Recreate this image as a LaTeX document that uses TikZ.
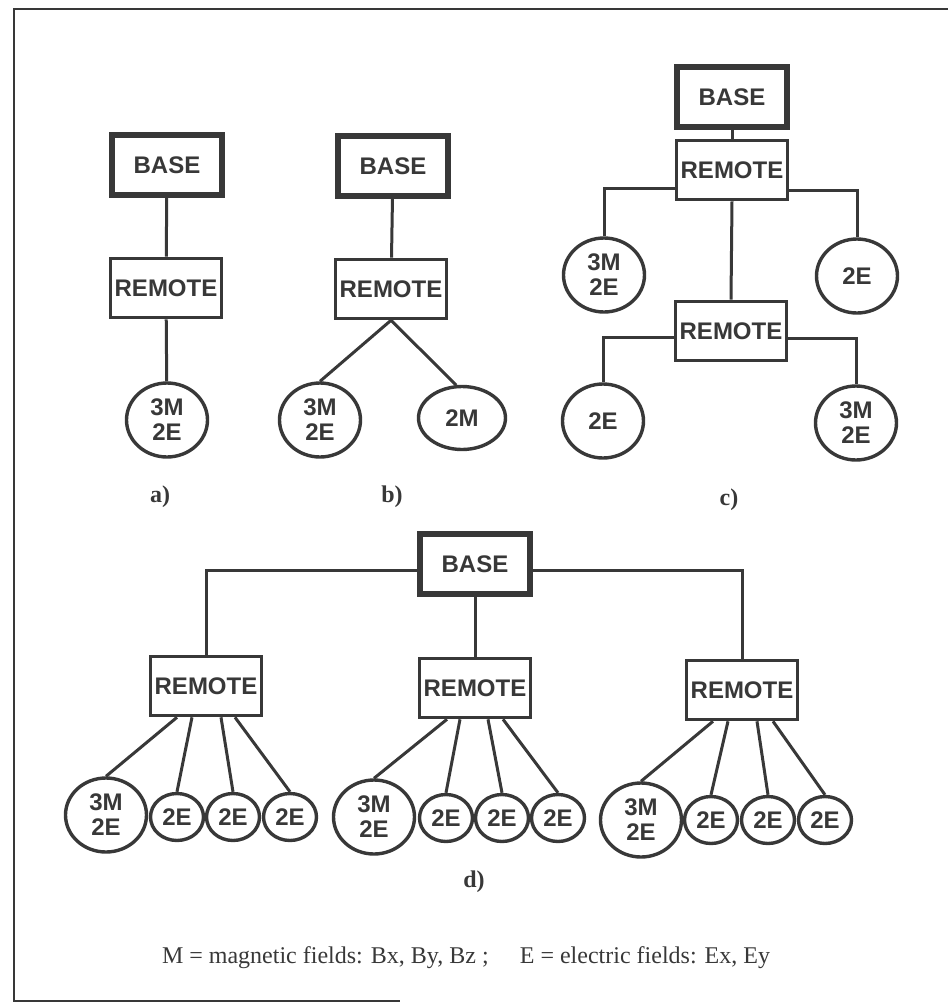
\documentclass[tikz,border=0pt]{standalone}
\usepackage{fontspec}
\setmainfont{Liberation Serif}
\setsansfont{Liberation Sans}
\usepackage{tikz}
\usetikzlibrary{calc,shapes.geometric}
\definecolor{inkgray}{HTML}{383838}
\tikzset{
  basebox/.style={draw=inkgray,line width=5.5pt,fill=white,minimum width=110pt,
    minimum height=60pt,inner sep=0pt,font=\sffamily\bfseries\fontsize{24}{26}\selectfont,text=inkgray},
  remotebox/.style={basebox,line width=3.6pt,minimum width=111pt,minimum height=59pt},
  sensor/.style={ellipse,draw=inkgray,line width=3.4pt,fill=white,inner sep=0pt,align=center,
    font=\sffamily\bfseries\fontsize{24}{25}\selectfont,text=inkgray},
  bigsensor/.style={sensor,minimum width=81pt,minimum height=74pt},
  smallsensor/.style={sensor,minimum width=53pt,minimum height=47pt},
  wire/.style={draw=inkgray,line width=3pt},
  partlabel/.style={font=\bfseries\fontsize{24}{26}\selectfont,text=inkgray},
  legend/.style={font=\fontsize{24}{26}\selectfont,text=inkgray}
}

\begin{document}
\begin{tikzpicture}[x=1pt,y=-1pt]
    \useasboundingbox (0,0) rectangle (948,1005);
    \draw[inkgray,line width=2.5pt] (948,9) -- (14,9) -- (14,1001) -- (400,1001);
    % a)
    \node[basebox] (ba) at (167,165) {BASE};
    \node[remotebox] (ra) at (166,288) {REMOTE};
    \node[bigsensor] (sa) at (167,420) {3M\\2E};
    \draw[wire] (ba)--(ra);
    \draw[wire] (ra)--(sa);
    \node[partlabel] (la) at (160,497) {a)};
    % b)
    \node[basebox] (bb) at (393,166) {BASE};
    \node[remotebox] (rb) at (391,289) {REMOTE};
    \node[bigsensor] (sb1) at (320,420) {3M\\2E};
    \node[sensor,minimum width=87pt,minimum height=63pt] (sb2) at (462,418) {2M};
    \draw[wire] (bb)--(rb);
    \draw[wire] (rb.south)--(sb1.north);
    \draw[wire] (rb.south)--(sb2.100);
    \node[partlabel] (lb) at (392,497) {b)};
    % c)
    \node[basebox] (bc) at (732,97) {BASE};
    \node[remotebox] (rc1) at (732,170) {REMOTE};
    \node[bigsensor] (sc1) at (604,275) {3M\\2E};
    \node[bigsensor] (sc2) at (857,276) {2E};
    \node[remotebox] (rc2) at (731,331) {REMOTE};
    \node[bigsensor] (sc3) at (603,421) {2E};
    \node[bigsensor] (sc4) at (856,423) {3M\\2E};
    \draw[wire] (bc)--(rc1);
    \draw[wire] ($(rc1.west)+(0,18)$) -| (sc1.north);
    \draw[wire] ($(rc1.east)+(0,20)$) -| (sc2.north);
    \draw[wire] (rc1.south) -- (rc2.north);
    \draw[wire] ($(rc2.west)+(0,6)$) -| (sc3.north);
    \draw[wire] ($(rc2.east)+(0,7)$) -| (sc4.north);
    \node[partlabel] (lc) at (729,500) {c)};
    % d)
    \node[basebox] (bd) at (475,564) {BASE};
    \node[remotebox] (rdl) at (206,686) {REMOTE};
    \node[remotebox] (rdm) at (475,688) {REMOTE};
    \node[remotebox] (rdr) at (742,690) {REMOTE};
    \draw[wire] ($(bd.west)+(0,6)$) -| (rdl.north);
    \draw[wire] ($(bd.east)+(0,6)$) -| (rdr.north);
    \draw[wire] (bd.south) -- (rdm.north);
    \node[bigsensor] (dl0) at (106,815) {3M\\2E};
    \node[smallsensor] (dl1) at (177,817) {2E};
    \node[smallsensor] (dl2) at (233,817) {2E};
    \node[smallsensor] (dl3) at (290,817) {2E};
    \node[bigsensor] (dm0) at (374,817) {3M\\2E};
    \node[smallsensor] (dm1) at (446,818) {2E};
    \node[smallsensor] (dm2) at (502,818) {2E};
    \node[smallsensor] (dm3) at (558,818) {2E};
    \node[bigsensor] (dr0) at (641,820) {3M\\2E};
    \node[smallsensor] (dr1) at (711,820) {2E};
    \node[smallsensor] (dr2) at (768,820) {2E};
    \node[smallsensor] (dr3) at (825,820) {2E};
    \draw[wire] ($(rdl.south)+(-29,0)$) -- (dl0.north);
    \draw[wire] ($(rdl.south)+(-14,0)$) -- (dl1.north);
    \draw[wire] ($(rdl.south)+(15,0)$) -- (dl2.north);
    \draw[wire] ($(rdl.south)+(29,0)$) -- (dl3.north);
    \draw[wire] ($(rdm.south)+(-28,0)$) -- (dm0.north);
    \draw[wire] ($(rdm.south)+(-15,0)$) -- (dm1.north);
    \draw[wire] ($(rdm.south)+(13,0)$) -- (dm2.north);
    \draw[wire] ($(rdm.south)+(28,0)$) -- (dm3.north);
    \draw[wire] ($(rdr.south)+(-29,0)$) -- (dr0.north);
    \draw[wire] ($(rdr.south)+(-14,0)$) -- (dr1.north);
    \draw[wire] ($(rdr.south)+(15,0)$) -- (dr2.north);
    \draw[wire] ($(rdr.south)+(31,0)$) -- (dr3.north);
    \node[partlabel] (ld) at (474,882) {d)};
    \node[legend] (key) at (466,958) {M = magnetic fields: Bx, By, Bz ;\hspace{1.3em}E = electric fields: Ex, Ey};
  \end{tikzpicture}
\end{document}
